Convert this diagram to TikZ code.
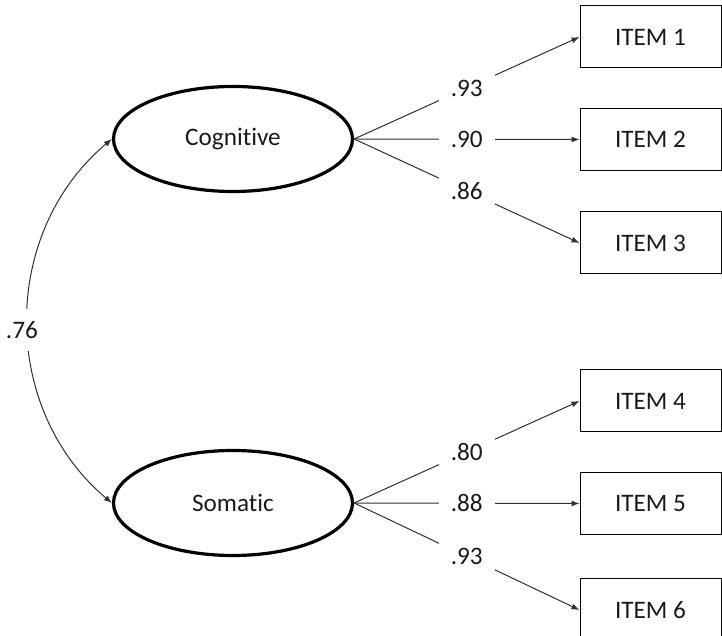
\documentclass[tikz,border=0pt]{standalone}
\usepackage{fontspec}
\setmainfont{Carlito}[Ligatures={NoCommon}]
\usetikzlibrary{shapes.geometric,arrows.meta}
\definecolor{ink}{HTML}{1A1A1A}
\definecolor{wire}{HTML}{303030}
\begin{document}
\begin{tikzpicture}[x=1pt,y=1pt,
  font=\fontsize{25.2}{30}\selectfont,
  latent/.style={ellipse,draw=black,line width=3.2pt,minimum width=239pt,minimum height=105pt,inner sep=0pt,text=ink},
  itembox/.style={rectangle,draw=black,line width=1pt,minimum width=141pt,minimum height=62pt,inner sep=0pt,text=ink},
  load/.style={draw=wire,line width=1pt,-{Latex[length=8pt,width=6pt]}},
  lbl/.style={fill=white,inner sep=12pt,text=ink}]
\useasboundingbox (0,0) rectangle (722,636);
\node[latent] (cog) at (233,497) {Cognitive};
\node[latent] (som) at (233,133) {Somatic};
\node[itembox] (i1) at (650.5,599) {ITEM 1};
\node[itembox] (i2) at (650.5,496.5) {ITEM 2};
\node[itembox] (i3) at (650.5,393) {ITEM 3};
\node[itembox] (i4) at (650.5,235) {ITEM 4};
\node[itembox] (i5) at (650.5,132.5) {ITEM 5};
\node[itembox] (i6) at (650.5,26) {ITEM 6};
\draw[load] (cog.east) -- node[lbl] {.93} (i1.west);
\draw[load] (cog.east) -- node[lbl] {.90} (i2.west);
\draw[load] (cog.east) -- node[lbl] {.86} (i3.west);
\draw[load] (som.east) -- node[lbl] {.80} (i4.west);
\draw[load] (som.east) -- node[lbl] {.88} (i5.west);
\draw[load] (som.east) -- node[lbl] {.93} (i6.west);
\draw[draw=wire,line width=1pt,{Latex[length=8pt,width=6pt]}-{Latex[length=8pt,width=6pt]}]
  (som.west) to[out=140,in=220,looseness=1.03]
  node[pos=0.5,xshift=-6pt,yshift=-9pt,lbl] {.76} (cog.west);
\end{tikzpicture}
\end{document}
